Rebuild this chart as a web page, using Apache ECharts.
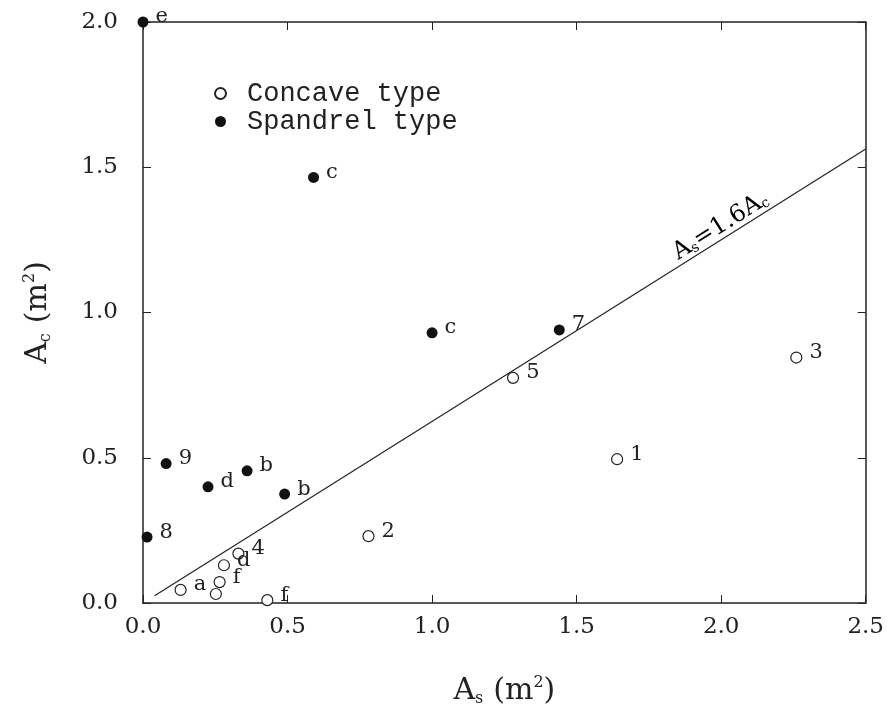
<!DOCTYPE html>
<html>
<head>
<meta charset="utf-8">
<script src="https://cdn.jsdelivr.net/npm/echarts@6/dist/echarts.min.js"></script>
<style>
  html, body { margin: 0; padding: 0; background: #fff; }
  #main { width: 887px; height: 713px; }
</style>
</head>
<body>
<div id="main"></div>
<script>
// values
const concaveX = [1.64, 0.78, 2.26, 0.33, 1.28, 0.28, 0.13, 0.265, 0.252, 0.43]
const concaveY = [0.495, 0.23, 0.845, 0.17, 0.775, 0.13, 0.045, 0.072, 0.031, 0.01]
const concaveLabels = ['1', '2', '3', '4', '5', 'd', 'a', 'f', '', 'f']

const spandrelX = [0, 0.59, 1.0, 1.44, 0.08, 0.36, 0.225, 0.49, 0.014]
const spandrelY = [2.0, 1.465, 0.93, 0.94, 0.48, 0.455, 0.40, 0.375, 0.227]
const spandrelLabels = ['e', 'c', 'c', '7', '9', 'b', 'd', 'b', '8']

// As = 1.6 Ac
const lineX = [0.04, 2.5]
const lineY = lineX.map(v => v / 1.6)

const serif = 'DejaVu Serif'
const ink = '#222'

const toPoints = (xs, ys, labels) => xs.map((x, i) => ({
  value: [x, ys[i]],
  label: { formatter: labels[i] }
}))

const pointLabel = {
  show: true,
  position: 'right',
  distance: 7,
  offset: [0, -5],
  fontFamily: serif,
  fontSize: 21,
  color: ink
}

const chart = echarts.init(document.getElementById('main'))

const axisCommon = {
  type: 'value',
  interval: 0.5,
  splitLine: { show: false },
  axisLine: { show: true, onZero: false, lineStyle: { color: ink, width: 1.5 } },
  axisTick: { show: true, inside: true, length: 8, lineStyle: { color: ink } }
}

const nameRich = {
  i: { fontFamily: serif, fontSize: 30, color: ink },
  sub: { fontFamily: serif, fontSize: 16, color: ink, padding: [15, 0, 0, 0] },
  sup: { fontFamily: serif, fontSize: 16, color: ink, padding: [0, 0, 17, 0] }
}

chart.setOption({
  animation: false,
  grid: { left: 143, right: 21, top: 22, bottom: 110 },
  legend: {
    orient: 'vertical',
    left: 209,
    top: 75,
    itemWidth: 11,
    itemHeight: 11,
    itemGap: 1,
    data: ['Concave type', 'Spandrel type'],
    textStyle: {
      fontFamily: 'Liberation Mono', fontSize: 27, color: ink,
      lineHeight: 22, padding: [0, 0, 4, 16]
    }
  },
  xAxis: [
    Object.assign({}, axisCommon, {
      min: 0, max: 2.5,
      name: '{i|A}{sub|s}   {i|(m}{sup|2}{i|)}',
      nameLocation: 'middle',
      nameGap: 72,
      nameTextStyle: { rich: nameRich },
      axisLabel: {
        margin: 13,
        fontFamily: serif, fontSize: 23, color: ink,
        formatter: v => v.toFixed(1)
      }
    }),
    Object.assign({}, axisCommon, {
      min: 0, max: 2.5, position: 'top',
      axisLabel: { show: false }
    })
  ],
  yAxis: [
    Object.assign({}, axisCommon, {
      min: 0, max: 2.0,
      name: '{i|A}{sub|c}   {i|(m}{sup|2}{i|)}',
      nameLocation: 'middle',
      nameGap: 88,
      nameTextStyle: { rich: nameRich },
      axisLabel: {
        margin: 25,
        fontFamily: serif, fontSize: 23, color: ink,
        formatter: v => v.toFixed(1)
      }
    }),
    Object.assign({}, axisCommon, {
      min: 0, max: 2.0, position: 'right',
      axisLabel: { show: false }
    })
  ],
  series: [
    {
      name: 'fit',
      type: 'line',
      data: lineX.map((x, i) => [x, lineY[i]]),
      showSymbol: false,
      symbol: 'none',
      lineStyle: { color: ink, width: 1.2 },
      z: 1
    },
    {
      name: 'Concave type',
      type: 'scatter',
      symbol: 'circle',
      symbolSize: 11,
      itemStyle: { color: '#fff', borderColor: ink, borderWidth: 1.2, opacity: 1 },
      label: pointLabel,
      data: toPoints(concaveX, concaveY, concaveLabels),
      z: 3
    },
    {
      name: 'Spandrel type',
      type: 'scatter',
      symbol: 'circle',
      symbolSize: 11,
      itemStyle: { color: '#111', opacity: 1 },
      label: pointLabel,
      data: toPoints(spandrelX, spandrelY, spandrelLabels),
      z: 3
    }
  ]
})

// rotated label along the fitted line
const p0 = chart.convertToPixel({ gridIndex: 0 }, [lineX[0], lineY[0]])
const p1 = chart.convertToPixel({ gridIndex: 0 }, [lineX[1], lineY[1]])
const angle = Math.atan2(p0[1] - p1[1], p1[0] - p0[0])
const at = chart.convertToPixel({ gridIndex: 0 }, [2.02, 2.02 / 1.6])
chart.setOption({
  graphic: [{
    type: 'text',
    x: at[0],
    y: at[1],
    rotation: angle,
    style: {
      text: '{i|A}{sub|s}{i|=1.6A}{sub|c}',
      align: 'center',
      verticalAlign: 'bottom',
      rich: {
        i: { fontFamily: serif, fontSize: 24, color: ink },
        sub: { fontFamily: serif, fontSize: 14, color: ink, padding: [10, 0, 0, 0] }
      }
    }
  }]
})
</script>
</body>
</html>
